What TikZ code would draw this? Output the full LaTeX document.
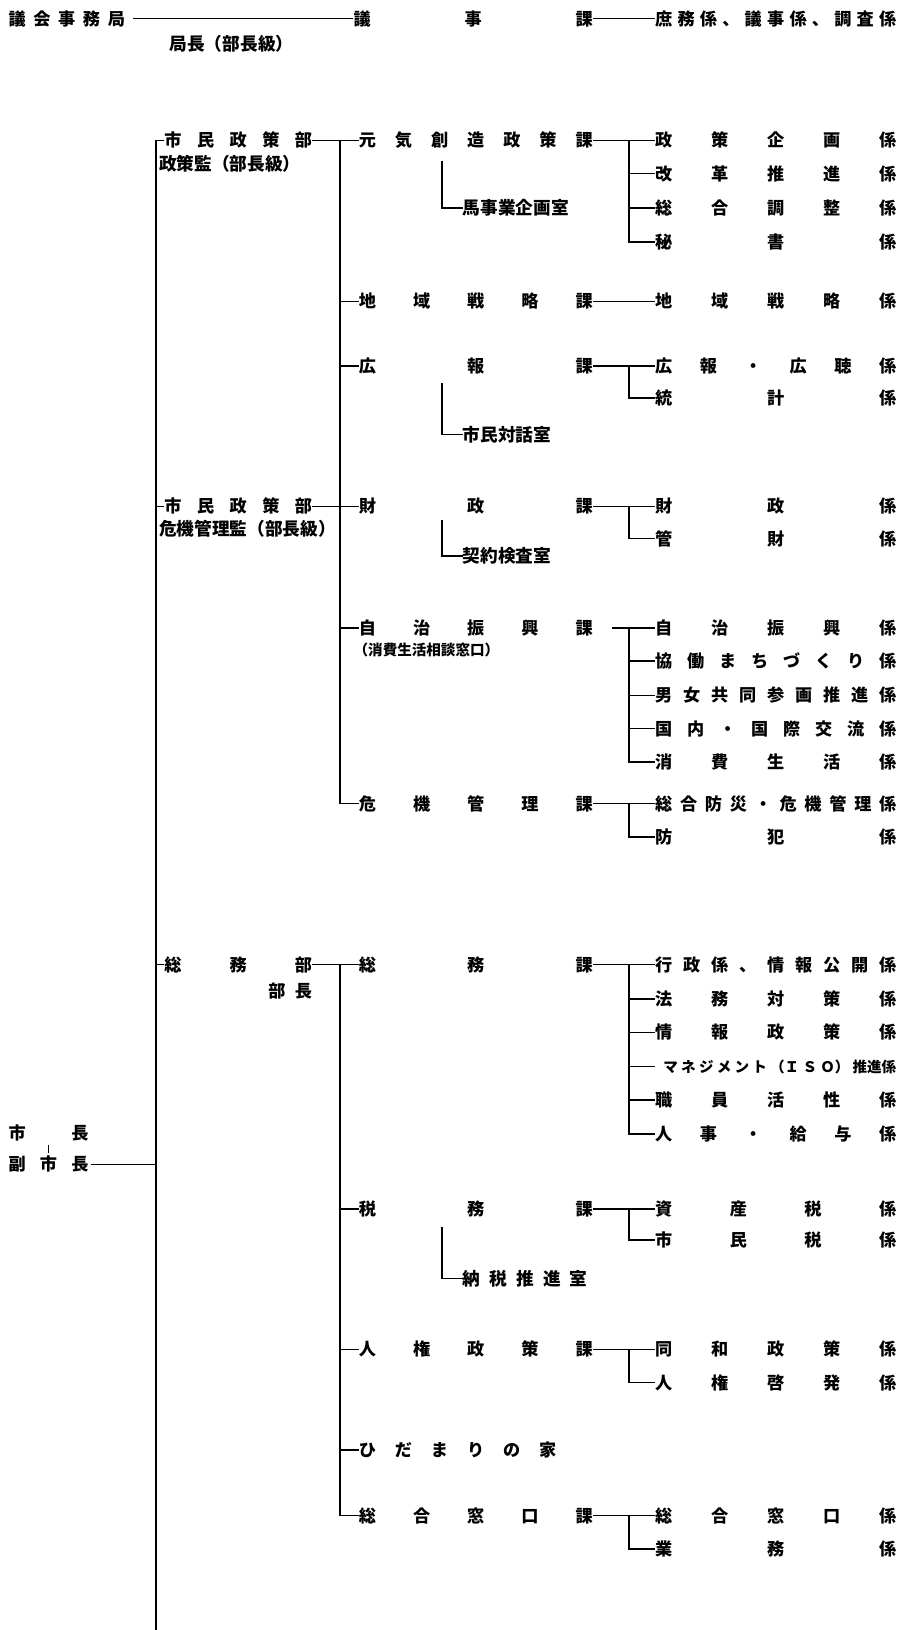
\documentclass[tikz,border=0pt]{standalone}
\usepackage{fontspec}
\setmainfont{Noto Sans CJK JP}
\usepackage{tikz}
\usetikzlibrary{positioning,calc}
\newcommand{\sprd}[2]{\makebox[#1pt][s]{#2}}

\begin{document}
\begin{tikzpicture}[x=1pt,y=-1pt,
  every node/.style={inner sep=0pt,anchor=west},
  lbl/.style={font=\fontsize{16.5}{18}\selectfont\bfseries},
  note/.style={font=\fontsize{17}{19}\selectfont\bfseries},
  small/.style={font=\fontsize{14}{16}\selectfont\bfseries},
  link/.style={line width=1.4pt},
  thin/.style={line width=0.9pt}
]
\useasboundingbox (0,0) rectangle (863,1568);

\node[lbl] (gikai) at (8,18) {\sprd{112}{議 会 事 務 局}};
\node[lbl] (gijika) at (340,18) {\sprd{230}{議 事 課}};
\node[lbl] (gijikk) at (630,18) {\sprd{232}{庶 務 係 、 議 事 係 、 調 査 係}};
\node[note] (kyokucho) at (163,42) {局長（部長級）};

\node[lbl] (shicho) at (8,1090) {\sprd{77}{市 長}};
\node[lbl] (fuku) at (8,1120) {\sprd{77}{副 市 長}};

\node[lbl] (bu1) at (158,135) {\sprd{142}{市 民 政 策 部}};
\node[note] (bu1c) at (153,158) {政策監（部長級）};
\node[lbl] (bu2) at (158,487) {\sprd{142}{市 民 政 策 部}};
\node[note] (bu2c) at (153,509) {危機管理監（部長級）};
\node[lbl] (bu3) at (158,928) {\sprd{142}{総 務 部}};
\node[lbl] (bu3c) at (258,953) {\sprd{42}{部 長}};

\node[lbl] (genki) at (345,135) {\sprd{225}{元 気 創 造 政 策 課}};
\node[lbl] (chiiki) at (345,290) {\sprd{225}{地 域 戦 略 課}};
\node[lbl] (koho) at (345,352) {\sprd{225}{広 報 課}};
\node[lbl] (zaisei) at (345,487) {\sprd{225}{財 政 課}};
\node[lbl] (jichi) at (345,604) {\sprd{225}{自 治 振 興 課}};
\node[small] (jichic) at (340,625) {（消費生活相談窓口）};
\node[lbl] (kiki) at (345,773) {\sprd{225}{危 機 管 理 課}};
\node[lbl] (somu) at (345,928) {\sprd{225}{総 務 課}};
\node[lbl] (zeimu) at (345,1163) {\sprd{225}{税 務 課}};
\node[lbl] (jinken) at (345,1298) {\sprd{225}{人 権 政 策 課}};
\node[lbl] (hidamari) at (345,1395) {\sprd{190}{ひ だ ま り の 家}};
\node[lbl] (mado) at (345,1458) {\sprd{225}{総 合 窓 口 課}};

\node[note] (umaji) at (445,200) {馬事業企画室};
\node[note] (taiwa) at (445,418) {市民対話室};
\node[note] (keiyaku) at (445,535) {契約検査室};
\node[note] (nozei) at (445,1230) {\sprd{120}{納 税 推 進 室}};

\node[lbl] (g1) at (630,135) {\sprd{232}{政 策 企 画 係}};
\node[lbl] (g2) at (630,167) {\sprd{232}{改 革 推 進 係}};
\node[lbl] (g3) at (630,200) {\sprd{232}{総 合 調 整 係}};
\node[lbl] (g4) at (630,233) {\sprd{232}{秘 書 係}};
\node[lbl] (c1) at (630,290) {\sprd{232}{地 域 戦 略 係}};
\node[lbl] (k1) at (630,352) {\sprd{232}{広 報 ・ 広 聴 係}};
\node[lbl] (k2) at (630,383) {\sprd{232}{統 計 係}};
\node[lbl] (z1) at (630,487) {\sprd{232}{財 政 係}};
\node[lbl] (z2) at (630,518) {\sprd{232}{管 財 係}};
\node[lbl] (j1) at (630,604) {\sprd{232}{自 治 振 興 係}};
\node[lbl] (j2) at (630,636) {\sprd{232}{協 働 ま ち づ く り 係}};
\node[lbl] (j3) at (630,669) {\sprd{232}{男 女 共 同 参 画 推 進 係}};
\node[lbl] (j4) at (630,701) {\sprd{232}{国 内 ・ 国 際 交 流 係}};
\node[lbl] (j5) at (630,733) {\sprd{232}{消 費 生 活 係}};
\node[lbl] (r1) at (630,773) {\sprd{232}{総 合 防 災 ・ 危 機 管 理 係}};
\node[lbl] (r2) at (630,805) {\sprd{232}{防 犯 係}};
\node[lbl] (s1) at (630,928) {\sprd{232}{行 政 係 、 情 報 公 開 係}};
\node[lbl] (s2) at (630,961) {\sprd{232}{法 務 対 策 係}};
\node[lbl] (s3) at (630,993) {\sprd{232}{情 報 政 策 係}};
\node[small] (s4) at (638,1026) {\sprd{224}{マ ネ ジ メ ン ト （Ｉ Ｓ Ｏ） 推進係}};
\node[lbl] (s5) at (630,1058) {\sprd{232}{職 員 活 性 係}};
\node[lbl] (s6) at (630,1091) {\sprd{232}{人 事 ・ 給 与 係}};
\node[lbl] (t1) at (630,1163) {\sprd{232}{資 産 税 係}};
\node[lbl] (t2) at (630,1193) {\sprd{232}{市 民 税 係}};
\node[lbl] (h1) at (630,1298) {\sprd{232}{同 和 政 策 係}};
\node[lbl] (h2) at (630,1330) {\sprd{232}{人 権 啓 発 係}};
\node[lbl] (m1) at (630,1458) {\sprd{232}{総 合 窓 口 係}};
\node[lbl] (m2) at (630,1490) {\sprd{232}{業 務 係}};

\coordinate (trunk) at (150,0);
\coordinate (trunkBot) at (150,1568);
\coordinate (sv) at (327,0);
\coordinate (kv) at (605,0);
\coordinate (umajiTop) at (425,155);
\coordinate (taiwaTop) at (425,368);
\coordinate (keiyakuTop) at (425,500);
\coordinate (nozeiTop) at (425,1180);

\draw[link,shorten <=8pt] (gikai.east) -- (gijika.west);
\draw[link] (gijika.east) -- (gijikk.west);
\draw[thin,shorten <=3pt,shorten >=3pt] (shicho.south) -- (fuku.north);
\draw[link,shorten <=2pt] (fuku.east) -- (trunk |- fuku.east);

\draw[link] (bu1.west) -| (trunkBot);
\draw[link] (trunk |- bu2.west) -- (bu2.west);
\draw[link] (trunk |- bu3.west) -- (bu3.west);

\draw[link] (bu1.east) -- (genki.west);
\draw[link] (bu2.east) -- (zaisei.west);
\draw[link] (sv |- genki.west) |- (kiki.west);
\foreach \s in {chiiki,koho,jichi}
  \draw[link] (sv |- \s.west) -- (\s.west);
\draw[link] (bu3.east) -- (somu.west);
\draw[link] (sv |- somu.west) |- (mado.west);
\foreach \s in {zeimu,jinken,hidamari}
  \draw[link] (sv |- \s.west) -- (\s.west);

\draw[link] (umajiTop) |- (umaji.west);
\draw[link] (taiwaTop) |- (taiwa.west);
\draw[link] (keiyakuTop) |- (keiyaku.west);
\draw[link] (nozeiTop) |- (nozei.west);

\draw[link] (genki.east) -- (g1.west);
\draw[link] (kv |- g1.west) |- (g4.west);
\foreach \k in {g2,g3} \draw[link] (kv |- \k.west) -- (\k.west);
\draw[link] (chiiki.east) -- (c1.west);
\draw[link] (koho.east) -- (k1.west);
\draw[link] (kv |- k1.west) |- (k2.west);
\draw[link] (zaisei.east) -- (z1.west);
\draw[link] (kv |- z1.west) |- (z2.west);
\draw[link,shorten <=18pt] (jichi.east) -- (j1.west);
\draw[link] (kv |- j1.west) |- (j5.west);
\foreach \k in {j2,j3,j4} \draw[link] (kv |- \k.west) -- (\k.west);
\draw[link] (kiki.east) -- (r1.west);
\draw[link] (kv |- r1.west) |- (r2.west);
\draw[link] (somu.east) -- (s1.west);
\draw[link] (kv |- s1.west) |- (s6.west);
\foreach \k in {s2,s3,s5} \draw[link] (kv |- \k.west) -- (\k.west);
\draw[link,shorten >=8pt] (kv |- s4.west) -- (s4.west);
\draw[link] (zeimu.east) -- (t1.west);
\draw[link] (kv |- t1.west) |- (t2.west);
\draw[link] (jinken.east) -- (h1.west);
\draw[link] (kv |- h1.west) |- (h2.west);
\draw[link] (mado.east) -- (m1.west);
\draw[link] (kv |- m1.west) |- (m2.west);
\end{tikzpicture}
\end{document}
